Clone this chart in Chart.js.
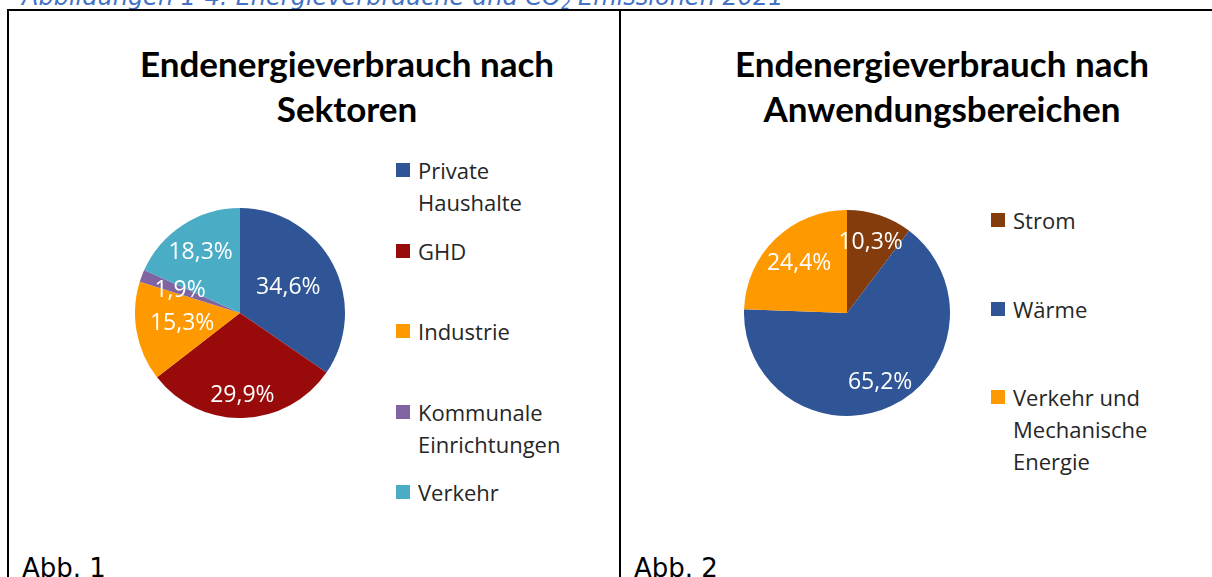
<!DOCTYPE html>
<html>
<head>
<meta charset="utf-8">
<script src="https://cdn.jsdelivr.net/npm/chart.js@4.4.0/dist/chart.umd.min.js"></script>
<style>
    body { margin: 0; width: 1212px; height: 577px; overflow: hidden; background: #fff; position: relative; }
    .line { position: absolute; background: #000; }
    .caption { position: absolute; left: 22px; top: -15px; font: oblique 24px "DejaVu Sans"; line-height: 24px; color: #4472c4; white-space: nowrap; }
    .caption sub { font-size: 15px; vertical-align: -4px; line-height: 0; }
    .title { position: absolute; top: 41px; width: 600px; text-align: center; font: bold 35px Lato; line-height: 45px; color: #000; }
    .abb { position: absolute; top: 555px; font: 26px "DejaVu Sans"; line-height: 26px; color: #000; }
    canvas { position: absolute; }
    .legend-item { position: absolute; font: 22px "Open Sans"; line-height: 32px; color: #262626; }
    .legend-box { position: absolute; width: 14px; height: 14px; }
</style>
</head>
<body>
<div class="caption">Abbildungen 1-4: Energieverbräuche und CO<sub>2</sub> Emissionen 2021</div>
<div class="line" style="left:7px; top:9px; width:1205px; height:2px;"></div>
<div class="line" style="left:7px; top:9px; width:2px; height:568px;"></div>
<div class="line" style="left:619px; top:9px; width:2px; height:568px;"></div>

<div class="title" style="left:47px;">Endenergieverbrauch nach<br>Sektoren</div>
<div class="title" style="left:642px;">Endenergieverbrauch nach<br>Anwendungsbereichen</div>

<canvas id="sektorenChart" width="210" height="210" style="left:135px; top:208px;"></canvas>
<canvas id="anwendungChart" width="206" height="206" style="left:744px; top:210px;"></canvas>

<div id="sektorenLegend"></div>
<div id="anwendungLegend"></div>

<div class="abb" style="left:22px;">Abb. 1</div>
<div class="abb" style="left:634px;">Abb. 2</div>

<script>
// Abb. 1 - Endenergieverbrauch nach Sektoren (%)
const sektorLabels = ['Private Haushalte', 'GHD', 'Industrie', 'Kommunale Einrichtungen', 'Verkehr'];
const sektorValues = [34.6, 29.9, 15.3, 1.9, 18.3];
const sektorColors = ['#2f5597', '#990a0a', '#ff9900', '#8064a2', '#4bacc6'];

// Abb. 2 - Endenergieverbrauch nach Anwendungsbereichen (%)
const anwendungLabels = ['Strom', 'Wärme', 'Verkehr und Mechanische Energie'];
const anwendungValues = [10.3, 65.2, 24.4];
const anwendungColors = ['#843c0c', '#2f5597', '#ff9900'];

// how far from the centre each percent label sits (share of radius)
const sektorLabelRadius = [0.52, 0.79, 0.56, 0.61, 0.69];
const anwendungLabelRadius = [0.72, 0.75, 0.67];

function formatPercent(v) {
    return v.toFixed(1).replace('.', ',') + '%';
}

const percentLabels = {
    id: 'percentLabels',
    afterDatasetsDraw(chart, args, opts) {
        const ctx = chart.ctx;
        const meta = chart.getDatasetMeta(0);
        const values = chart.data.datasets[0].data;
        ctx.save();
        ctx.font = '23px "Open Sans"';
        ctx.fillStyle = '#ffffff';
        ctx.textAlign = 'center';
        ctx.textBaseline = 'middle';
        meta.data.forEach((arc, i) => {
            const p = arc.getProps(['x', 'y', 'startAngle', 'endAngle', 'outerRadius'], true);
            const mid = (p.startAngle + p.endAngle) / 2;
            const r = p.outerRadius * opts.radius[i];
            ctx.fillText(formatPercent(values[i]), p.x + Math.cos(mid) * r, p.y + Math.sin(mid) * r);
        });
        ctx.restore();
    }
};

function createPie(id, labels, values, colors, labelRadius) {
    const ctx = document.getElementById(id).getContext('2d');
    return new Chart(ctx, {
        type: 'pie',
        data: {
            labels: labels,
            datasets: [{
                data: values,
                backgroundColor: colors,
                borderWidth: 0,
                offset: 0,
                hoverOffset: 0
            }]
        },
        options: {
            responsive: false,
            animation: false,
            events: [],
            layout: { padding: 0 },
            plugins: {
                legend: { display: false },
                tooltip: { enabled: false },
                percentLabels: { radius: labelRadius }
            }
        },
        plugins: [percentLabels]
    });
}

// html legend, one entry per category
function buildLegend(id, labels, colors, left, firstY, step, maxWidth) {
    const holder = document.getElementById(id);
    labels.forEach((label, i) => {
        const cy = firstY + i * step;
        const box = document.createElement('div');
        box.className = 'legend-box';
        box.style.left = left + 'px';
        box.style.top = (cy - 7) + 'px';
        box.style.background = colors[i];
        holder.appendChild(box);

        const text = document.createElement('div');
        text.className = 'legend-item';
        text.style.left = (left + 22) + 'px';
        text.style.top = (cy - 16) + 'px';
        text.style.maxWidth = maxWidth + 'px';
        text.textContent = label;
        holder.appendChild(text);
    });
}

document.fonts.load('22px "Open Sans"').then(function () {
    createPie('sektorenChart', sektorLabels, sektorValues, sektorColors, sektorLabelRadius);
    createPie('anwendungChart', anwendungLabels, anwendungValues, anwendungColors, anwendungLabelRadius);
});

buildLegend('sektorenLegend', sektorLabels, sektorColors, 396, 170, 80.5, 160);
buildLegend('anwendungLegend', anwendungLabels, anwendungColors, 991, 220, 88.5, 150);
</script>
</body>
</html>
